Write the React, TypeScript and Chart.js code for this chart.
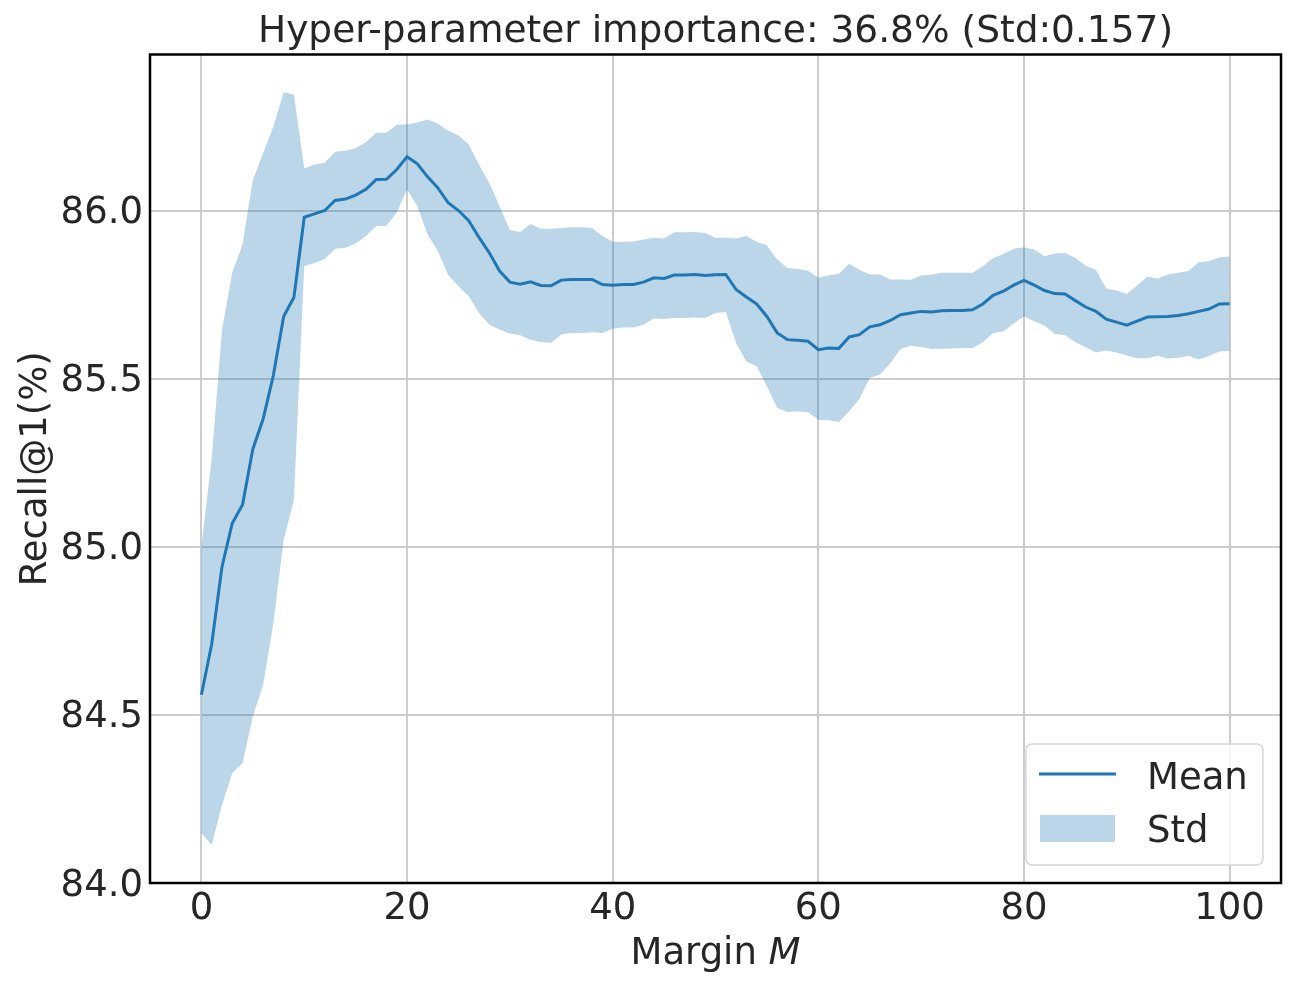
import React, { useEffect, useRef } from 'react';
import { Chart, registerables } from 'chart.js';

Chart.register(...registerables);

const margins = [
  0, 1, 2, 3, 4, 5, 6, 7, 8, 9, 10, 11, 12, 13, 14, 15, 16, 17, 18, 19, 20,
  21, 22, 23, 24, 25, 26, 27, 28, 29, 30, 31, 32, 33, 34, 35, 36, 37, 38, 39, 40,
  41, 42, 43, 44, 45, 46, 47, 48, 49, 50, 51, 52, 53, 54, 55, 56, 57, 58, 59, 60,
  61, 62, 63, 64, 65, 66, 67, 68, 69, 70, 71, 72, 73, 74, 75, 76, 77, 78, 79, 80,
  81, 82, 83, 84, 85, 86, 87, 88, 89, 90, 91, 92, 93, 94, 95, 96, 97, 98, 99, 100,
];

const meanValues = [
  84.56, 84.71, 84.94, 85.07, 85.125, 85.29, 85.38, 85.51, 85.685, 85.742,
  85.98, 85.99, 86.0, 86.03, 86.034, 86.046, 86.063, 86.092, 86.093, 86.122,
  86.16, 86.139, 86.1, 86.067, 86.023, 86.0, 85.97, 85.92, 85.874, 85.82,
  85.787, 85.781, 85.788, 85.777, 85.776, 85.793, 85.795, 85.795, 85.795, 85.78,
  85.778, 85.78, 85.78, 85.787, 85.8, 85.798, 85.808, 85.808, 85.81, 85.807,
  85.809, 85.81, 85.765, 85.743, 85.722, 85.685, 85.636, 85.616, 85.614, 85.611,
  85.586, 85.591, 85.59, 85.624, 85.631, 85.654, 85.66, 85.673, 85.69, 85.695,
  85.7, 85.698, 85.702, 85.703, 85.703, 85.705, 85.722, 85.748, 85.76, 85.778,
  85.792, 85.778, 85.762, 85.753, 85.752, 85.732, 85.713, 85.7, 85.677, 85.668,
  85.659, 85.671, 85.683, 85.684, 85.685, 85.688, 85.693, 85.7, 85.707, 85.722,
  85.723,
];

const stdUpper = [
  85.003, 85.26, 85.646, 85.815, 85.9, 86.09, 86.17, 86.25, 86.352, 86.345,
  86.125, 86.137, 86.142, 86.175, 86.178, 86.185, 86.203, 86.231, 86.231, 86.255,
  86.256, 86.262, 86.271, 86.258, 86.237, 86.223, 86.196, 86.137, 86.082, 86.013,
  85.942, 85.936, 85.96, 85.946, 85.946, 85.948, 85.95, 85.95, 85.948, 85.924,
  85.907, 85.907, 85.908, 85.914, 85.919, 85.917, 85.935, 85.935, 85.936, 85.933,
  85.919, 85.919, 85.917, 85.924, 85.907, 85.896, 85.854, 85.829, 85.826, 85.821,
  85.8, 85.807, 85.812, 85.842, 85.824, 85.81, 85.81, 85.795, 85.795, 85.794,
  85.807, 85.809, 85.815, 85.815, 85.815, 85.815, 85.834, 85.859, 85.871, 85.886,
  85.891, 85.884, 85.864, 85.872, 85.874, 85.859, 85.836, 85.824, 85.768, 85.762,
  85.752, 85.777, 85.803, 85.798, 85.81, 85.815, 85.82, 85.846, 85.849, 85.861,
  85.863,
];

const stdLower = [
  84.148, 84.113, 84.232, 84.327, 84.356, 84.495, 84.589, 84.773, 85.021, 85.14,
  85.834, 85.844, 85.856, 85.886, 85.889, 85.902, 85.924, 85.953, 85.955, 85.993,
  86.063, 86.013, 85.929, 85.879, 85.808, 85.775, 85.745, 85.695, 85.66, 85.646,
  85.634, 85.629, 85.616, 85.609, 85.606, 85.631, 85.636, 85.636, 85.638, 85.636,
  85.648, 85.652, 85.652, 85.66, 85.679, 85.677, 85.68, 85.68, 85.682, 85.68,
  85.695, 85.698, 85.606, 85.551, 85.537, 85.477, 85.413, 85.401, 85.403, 85.4,
  85.378, 85.376, 85.371, 85.403, 85.44, 85.502, 85.512, 85.546, 85.588, 85.598,
  85.594, 85.588, 85.589, 85.59, 85.591, 85.591, 85.608, 85.636, 85.64, 85.664,
  85.685, 85.671, 85.658, 85.633, 85.629, 85.608, 85.593, 85.578, 85.584, 85.578,
  85.569, 85.561, 85.561, 85.568, 85.56, 85.562, 85.568, 85.557, 85.567, 85.581,
  85.583,
];

const xTicks = [0, 20, 40, 60, 80, 100];
const yTicks = [84.0, 84.5, 85.0, 85.5, 86.0];

const titleText = 'Hyper-parameter importance: 36.8% (Std:0.157)';
const xLabelMain = 'Margin ';
const xLabelVar = 'M';
const yLabel = 'Recall@1(%)';
const meanLabel = 'Mean';
const stdLabel = 'Std';

const TEXT = '#262626';
const FAMILY = '"DejaVu Sans", "Liberation Sans", sans-serif';
const LINE_BLUE = '#1f77b4';
const BAND_BLUE = 'rgba(31,119,180,0.3)';

const decorPlugin = {
  id: 'decor',
  afterDraw(chart: any) {
    const { ctx, chartArea: a } = chart;
    ctx.save();

    // x-axis label with italic variable
    ctx.fillStyle = TEXT;
    ctx.textBaseline = 'alphabetic';
    ctx.textAlign = 'left';
    const f1 = `37px ${FAMILY}`;
    const f2 = `italic 37px ${FAMILY}`;
    ctx.font = f1;
    const w1 = ctx.measureText(xLabelMain).width;
    ctx.font = f2;
    const w2 = ctx.measureText(xLabelVar).width;
    const cx = (a.left + a.right) / 2;
    const x0 = cx - (w1 + w2) / 2;
    const by0 = a.bottom + 81;
    ctx.font = f1;
    ctx.fillText(xLabelMain, x0, by0);
    ctx.font = f2;
    ctx.fillText(xLabelVar, x0 + w1, by0);

    // legend
    const bw = 237;
    const bh = 121;
    const bx = a.right - 18 - bw;
    const by = a.bottom - 18 - bh;
    const r = 6;
    ctx.beginPath();
    ctx.moveTo(bx + r, by);
    ctx.lineTo(bx + bw - r, by);
    ctx.arcTo(bx + bw, by, bx + bw, by + r, r);
    ctx.lineTo(bx + bw, by + bh - r);
    ctx.arcTo(bx + bw, by + bh, bx + bw - r, by + bh, r);
    ctx.lineTo(bx + r, by + bh);
    ctx.arcTo(bx, by + bh, bx, by + bh - r, r);
    ctx.lineTo(bx, by + r);
    ctx.arcTo(bx, by, bx + r, by, r);
    ctx.closePath();
    ctx.fillStyle = 'rgba(255,255,255,0.8)';
    ctx.fill();
    ctx.strokeStyle = '#d6d6d6';
    ctx.lineWidth = 1.5;
    ctx.stroke();

    ctx.strokeStyle = LINE_BLUE;
    ctx.lineWidth = 3;
    ctx.beginPath();
    ctx.moveTo(bx + 13, by + 30);
    ctx.lineTo(bx + 90, by + 30);
    ctx.stroke();

    ctx.fillStyle = BAND_BLUE;
    ctx.fillRect(bx + 14, by + 71, 75, 27);

    ctx.fillStyle = TEXT;
    ctx.font = `37px ${FAMILY}`;
    ctx.fillText(meanLabel, bx + 121, by + 45);
    ctx.fillText(stdLabel, bx + 121, by + 98);

    // frame
    ctx.strokeStyle = '#000000';
    ctx.lineWidth = 2.5;
    ctx.strokeRect(a.left, a.top, a.right - a.left, a.bottom - a.top);

    ctx.restore();
  },
};

export default function App() {
  const canvasRef = useRef<HTMLCanvasElement | null>(null);

  useEffect(() => {
    const canvas = canvasRef.current;
    if (!canvas) return;

    const toPoints = (vals: number[]) => margins.map((m, i) => ({ x: m, y: vals[i] }));

    const chart = new Chart(canvas, {
      type: 'line',
      data: {
        datasets: [
          {
            label: meanLabel,
            data: toPoints(meanValues),
            borderColor: LINE_BLUE,
            borderWidth: 3,
            pointRadius: 0,
            fill: false,
            tension: 0,
          },
          {
            label: stdLabel,
            data: toPoints(stdUpper),
            borderColor: 'rgba(0,0,0,0)',
            borderWidth: 0,
            backgroundColor: BAND_BLUE,
            pointRadius: 0,
            fill: '+1',
            tension: 0,
          },
          {
            label: 'Std lower',
            data: toPoints(stdLower),
            borderColor: 'rgba(0,0,0,0)',
            borderWidth: 0,
            pointRadius: 0,
            fill: false,
            tension: 0,
          },
        ],
      },
      options: {
        responsive: false,
        animation: false,
        devicePixelRatio: 1,
        layout: { padding: { left: 0, right: 16, top: 0, bottom: 0 } },
        plugins: {
          legend: { display: false },
          tooltip: { enabled: false },
          title: {
            display: true,
            text: titleText,
            color: TEXT,
            fullSize: false,
            font: { family: FAMILY, size: 37.5, weight: 'normal', lineHeight: 1.2 },
            padding: { top: 9.5, bottom: 0 },
          },
        },
        scales: {
          x: {
            type: 'linear',
            min: -5,
            max: 105,
            afterBuildTicks: (scale: any) => {
              scale.ticks = xTicks.map((v) => ({ value: v }));
            },
            afterFit: (scale: any) => {
              scale.height = 107;
            },
            grid: { color: '#cccccc', lineWidth: 2, drawTicks: false },
            border: { display: false },
            ticks: {
              color: TEXT,
              font: { family: FAMILY, size: 37, lineHeight: 1.2 },
              padding: 4,
              maxRotation: 0,
              autoSkip: false,
              callback: (v: any) => String(v),
            },
          },
          y: {
            type: 'linear',
            min: 84,
            max: 86.464,
            afterBuildTicks: (scale: any) => {
              scale.ticks = yTicks.map((v) => ({ value: v }));
            },
            afterFit: (scale: any) => {
              scale.width = 150;
            },
            grid: { color: '#cccccc', lineWidth: 2, drawTicks: false },
            border: { display: false },
            ticks: {
              color: TEXT,
              font: { family: FAMILY, size: 37, lineHeight: 1.2 },
              padding: 7,
              labelOffset: 3,
              autoSkip: false,
              callback: (v: any) => Number(v).toFixed(1),
            },
            title: {
              display: true,
              text: yLabel,
              color: TEXT,
              font: { family: FAMILY, size: 37, lineHeight: 1.2 },
              padding: { top: 14, bottom: 0 },
            },
          },
        },
      },
      plugins: [decorPlugin],
    } as any);

    return () => {
      chart.destroy();
    };
  }, []);

  return (
    <div style={{ position: 'absolute', left: 0, top: 0, width: 1297, height: 990, background: '#ffffff' }}>
      <canvas ref={canvasRef} width={1297} height={990} style={{ display: 'block', width: 1297, height: 990 }} />
    </div>
  );
}
